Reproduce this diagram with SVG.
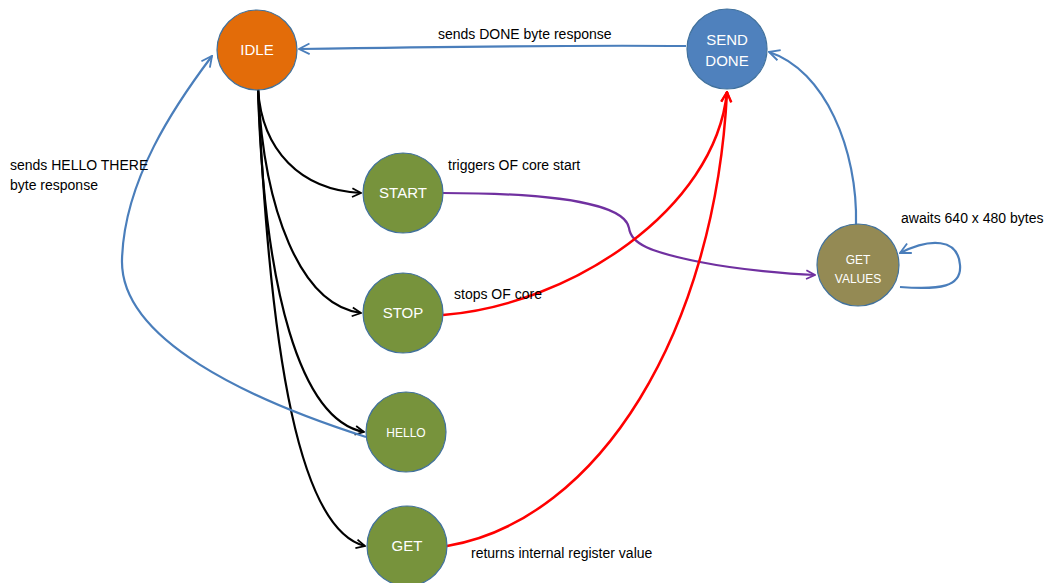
<svg xmlns="http://www.w3.org/2000/svg" width="1054" height="583" viewBox="0 0 1054 583">
  <style>
    .node { stroke: #41719C; stroke-width: 1.2; }
    .lbl { font-family: "Liberation Sans", Arial, sans-serif; font-size: 15px; fill: #ffffff; text-anchor: middle; }
    .lbl-s { font-family: "Liberation Sans", Arial, sans-serif; font-size: 12px; fill: #ffffff; text-anchor: middle; }
    .note { font-family: "Liberation Sans", Arial, sans-serif; font-size: 14px; fill: #000000; }
    .edge { fill: none; stroke-width: 2.2; }
    .blk { stroke: #000000; marker-end: url(#arr-blk); }
    .blu { stroke: #4A7EBB; marker-end: url(#arr-blu); }
    .red { stroke: #FF0000; stroke-width: 2.5; marker-end: url(#arr-red); }
    .pur { stroke: #7030A0; marker-end: url(#arr-pur); }
  </style>
  <defs>
    <marker id="arr-blk" viewBox="0 0 10 10" refX="9" refY="5" markerWidth="5" markerHeight="5" orient="auto" markerUnits="strokeWidth">
      <path d="M1,1 L9,5 L1,9" fill="none" stroke="#000000" stroke-width="1.6"/>
    </marker>
    <marker id="arr-blu" viewBox="0 0 10 10" refX="9" refY="5" markerWidth="6" markerHeight="6" orient="auto" markerUnits="strokeWidth">
      <path d="M1,1 L9,5 L1,9" fill="none" stroke="#4A7EBB" stroke-width="1.4"/>
    </marker>
    <marker id="arr-red" viewBox="0 0 10 10" refX="9" refY="5" markerWidth="5" markerHeight="5" orient="auto" markerUnits="strokeWidth">
      <path d="M1,1 L9,5 L1,9" fill="none" stroke="#FF0000" stroke-width="1.6"/>
    </marker>
    <marker id="arr-pur" viewBox="0 0 10 10" refX="9" refY="5" markerWidth="5" markerHeight="5" orient="auto" markerUnits="strokeWidth">
      <path d="M1,1 L9,5 L1,9" fill="none" stroke="#7030A0" stroke-width="1.6"/>
    </marker>
  </defs>

  <rect width="1054" height="583" fill="#ffffff"/>

  <!-- connectors -->
  <g id="connectors">
    <!-- IDLE to command states -->
    <path class="edge blk" d="M258,89 C262,150 300,190 361,193"/>
    <path class="edge blk" d="M258,89 C264,210 300,305 361,313"/>
    <path class="edge blk" d="M258,89 C264,290 300,420 364,432"/>
    <path class="edge blk" d="M258,89 C270,360 300,530 365,546"/>
    <!-- SEND DONE back to IDLE -->
    <path class="edge blu" d="M686,46 C560,45 420,47 299,49"/>
    <!-- HELLO back to IDLE -->
    <path class="edge blu" d="M366,437 C250,400 120,340 122,260 C124,180 175,105 212,56"/>
    <!-- GET VALUES to SEND DONE -->
    <path class="edge blu" d="M856,225 C858,150 825,70 769,52"/>
    <!-- GET VALUES self loop -->
    <path class="edge blu" d="M900,287 C940,290 962,287 960,265 C958,238 930,238 900,253"/>
    <!-- START to GET VALUES -->
    <path class="edge pur" d="M443,193 C560,193 625,205 629,228 C631,244 650,252 700,262 C740,270 790,274 815,275"/>
    <!-- STOP and GET to SEND DONE -->
    <path class="edge red" d="M443,315 C570,305 715,210 727,92"/>
    <path class="edge red" d="M447,546 C600,520 715,330 727,92"/>
  </g>

  <!-- states -->
  <g id="idle">
    <circle class="node" cx="257" cy="50" r="40" fill="#E36C09"/>
    <text class="lbl" x="257" y="55">IDLE</text>
  </g>
  <g id="send-done">
    <circle class="node" cx="727" cy="49" r="40" fill="#4F81BD"/>
    <text class="lbl" x="727" y="45">SEND</text>
    <text class="lbl" x="727" y="66">DONE</text>
  </g>
  <g id="start">
    <circle class="node" cx="403" cy="193" r="40" fill="#77933C"/>
    <text class="lbl" x="403" y="198">START</text>
  </g>
  <g id="stop">
    <circle class="node" cx="403" cy="313" r="40" fill="#77933C"/>
    <text class="lbl" x="403" y="318">STOP</text>
  </g>
  <g id="hello">
    <circle class="node" cx="406" cy="432" r="40" fill="#77933C"/>
    <text class="lbl-s" x="406" y="437">HELLO</text>
  </g>
  <g id="get">
    <circle class="node" cx="407" cy="546" r="40" fill="#77933C"/>
    <text class="lbl" x="407" y="551">GET</text>
  </g>
  <g id="get-values">
    <circle class="node" cx="858" cy="265" r="41" fill="#948A54"/>
    <text class="lbl-s" x="858" y="264">GET</text>
    <text class="lbl-s" x="858" y="283">VALUES</text>
  </g>

  <!-- transition notes -->
  <g id="notes">
    <text class="note" x="438" y="39">sends DONE byte response</text>
    <text class="note" x="448" y="170">triggers OF core start</text>
    <text class="note" x="454" y="299">stops OF core</text>
    <text class="note" x="471" y="558">returns internal register value</text>
    <text class="note" x="901" y="223">awaits 640 x 480 bytes</text>
    <text class="note" x="10" y="170">sends HELLO THERE</text>
    <text class="note" x="10" y="190">byte response</text>
  </g>
</svg>
